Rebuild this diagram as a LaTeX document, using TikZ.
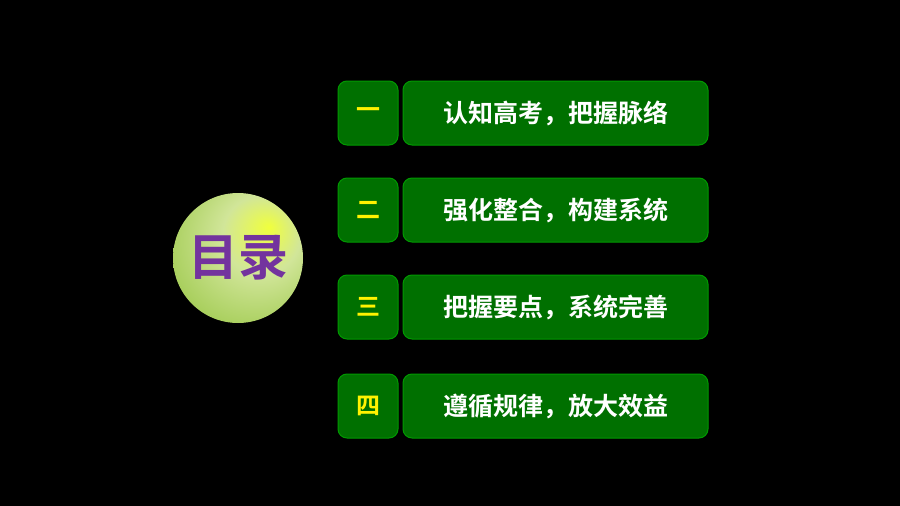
\documentclass[tikz,border=0pt]{standalone}
\usepackage{fontspec}
\newfontfamily\cjk{Noto Sans CJK SC Bold}
\usetikzlibrary{shadings}
\begin{document}
\begin{tikzpicture}[x=1pt,y=-1pt,
  numbox/.style={draw=green!60!black,line width=1pt,rounded corners=9pt,minimum width=60pt,minimum height=64pt,inner sep=0pt,text=yellow,font=\cjk\fontsize{24}{26}\selectfont},
  titlebox/.style={draw=green!60!black,line width=1pt,rounded corners=9pt,minimum width=305pt,minimum height=64pt,inner sep=0pt,text=white,font=\cjk\fontsize{25}{27}\selectfont}]
\definecolor{boxg}{RGB}{0,112,0}
\fill[black] (0,0) rectangle (900,506);
\useasboundingbox (0,0) rectangle (900,506);
\pgfdeclareradialshading{ballg}{\pgfpoint{12bp}{12bp}}{color(0bp)=(white!80!green!30!yellow); color(15bp)=({rgb,1:red,0.82;green,0.9;blue,0.6}); color(45bp)=({rgb,1:red,0.55;green,0.75;blue,0.2}); color(60bp)=({rgb,1:red,0.5;green,0.72;blue,0.15})}
\node[circle,minimum size=130pt,inner sep=0pt,shading=ballg,text={rgb,1:red,0.45;green,0.2;blue,0.62},font=\cjk\fontsize{50}{54}\selectfont] (circ) at (238,258) {目录};
\foreach \y/\n/\t [count=\i] in {113/一/认知高考，把握脉络, 210/二/强化整合，构建系统, 307/三/把握要点，系统完善, 406/四/遵循规律，放大效益}{
  \node[numbox,fill=boxg] (n\i) at (368,\y) {\n};
  \node[titlebox,fill=boxg] (t\i) at (555.5,\y) {\t};
}
\end{tikzpicture}
\end{document}
